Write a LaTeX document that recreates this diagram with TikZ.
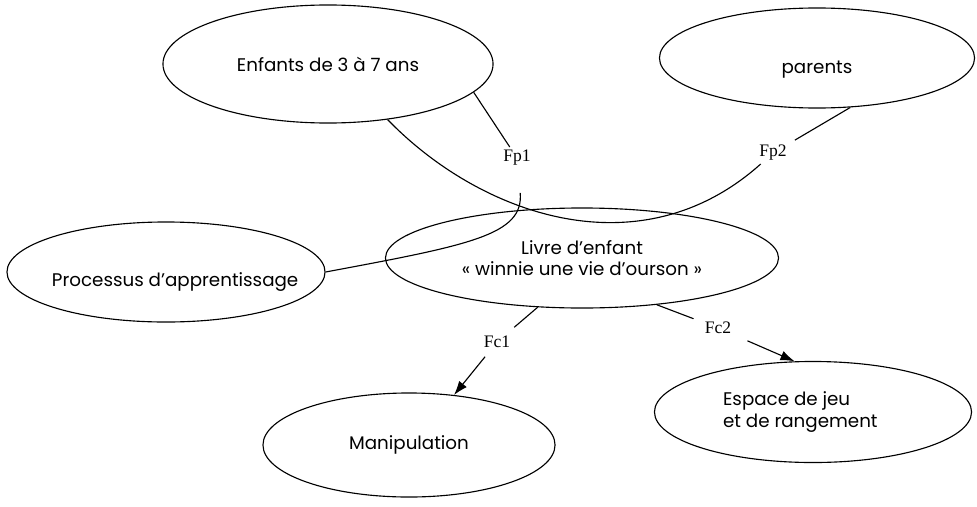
\documentclass[tikz,border=0pt]{standalone}
\usepackage{fontspec}
\usetikzlibrary{shapes.geometric,arrows.meta}
\newfontfamily\gothic{Poppins}
\newfontfamily\timesfont{Liberation Serif}

\tikzstyle{bubble}=[draw, ellipse, inner sep=0pt, align=center, font=\gothic\fontsize{13}{15}\selectfont]
\tikzstyle{func}=[inner sep=2pt, font=\timesfont\fontsize{12.5}{14}\selectfont]

\begin{document}
\begin{tikzpicture}[x=0.025cm, y=-0.025cm, line width=0.8pt, >={Latex[length=10pt,width=7pt]}]
          \useasboundingbox (0,0) rectangle (977,506);

          \node (enfants) [bubble, minimum width=8.25cm, minimum height=2.95cm] at (328,64) {Enfants de 3 à 7 ans};
          \node (parents) [bubble, minimum width=7.875cm, minimum height=2.5cm] at (817,58) {\raisebox{-11pt}[0pt][0pt]{parents}};
          \node (proc) [bubble, minimum width=7.95cm, minimum height=2.5cm] at (166,272) {\makebox[0pt]{\hspace{13pt}\raisebox{-10pt}[0pt][0pt]{Processus d’apprentissage}}};
          \node (livre) [bubble, minimum width=9.825cm, minimum height=2.5cm] at (582,258) {Livre d’enfant\\« winnie une vie d’ourson »};
          \node (manip) [bubble, minimum width=7.3cm, minimum height=2.6cm] at (409,445) {Manipulation};
          \node (espace) [bubble, align=left, minimum width=7.925cm, minimum height=2.525cm] at (813,412) {\hspace{-18pt}Espace de jeu\\\hspace{-18pt}et de rangement};

          \node (fp1) [func] at (517,158) {Fp1};
          \node (fp2) [func] at (773,153) {Fp2};
          \node (fc1) [func] at (497,342) {Fc1};
          \node (fc2) [func] at (718,328) {Fc2};

          % fonctions principales
          \draw (enfants.-11) -- (fp1);
          \draw [shorten <=17pt] (fp1) .. controls (524,235) and (470,245) .. (proc.east);
          \draw (enfants.-43) .. controls (480,215) and (640,272) .. (fp2);
          \draw [shorten <=4pt] (fp2) -- (parents.-56);

          % fonctions contraintes
          \draw [shorten >=6pt] (livre.-132) -- (fc1);
          \draw [->, shorten <=5pt] (fc1) -- (manip.48);
          \draw [shorten >=6pt] (livre.-32) -- (fc2);
          \draw [->, shorten <=10pt] (fc2) -- (espace.110);
    \end{tikzpicture}
\end{document}
